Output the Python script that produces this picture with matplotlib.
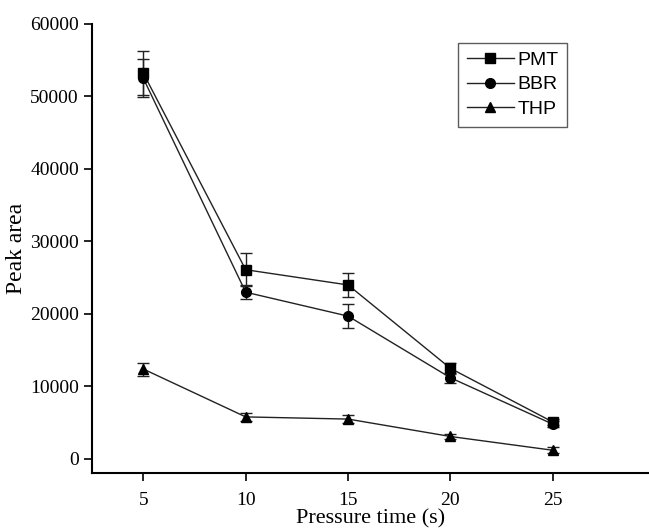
import numpy as np
import matplotlib.pyplot as plt
from matplotlib.lines import Line2D

time_s = [5, 10, 15, 20, 25]
pmt = [53200, 26100, 24000, 12500, 5100]
pmt_err = [3000, 2300, 1700, 800, 400]
bbr = [52500, 23000, 19700, 11200, 4800]
bbr_err = [2600, 1000, 1700, 700, 400]
thp = [12400, 5800, 5500, 3100, 1200]
thp_err = [900, 600, 500, 400, 400]

plt.rcParams['font.family'] = ['Liberation Serif', 'DejaVu Serif']

fig = plt.figure(figsize=(6.49, 5.32), dpi=100)
ax = fig.add_axes([0.142, 0.111, 0.858, 0.844])

series = [('PMT', pmt, pmt_err, 's'), ('BBR', bbr, bbr_err, 'o'), ('THP', thp, thp_err, '^')]
handles = []
for name, vals, err, mk in series:
    ax.errorbar(time_s, vals, yerr=err, color='#222222', lw=1.0, marker=mk,
                markersize=7, markerfacecolor='black', markeredgecolor='black',
                ecolor='#222222', elinewidth=1.0, capsize=4, capthick=1.0)
    handles.append(Line2D([], [], color='#222222', lw=1.0, marker=mk, markersize=7,
                          markerfacecolor='black', markeredgecolor='black', label=name))

ax.set_xlim(2.5, 29.7)
ax.set_ylim(-1930, 60000)
ax.set_xticks(time_s)
ax.set_yticks(np.arange(0, 60001, 10000))
ax.spines['top'].set_visible(False)
ax.spines['right'].set_visible(False)
ax.spines['left'].set_linewidth(1.5)
ax.spines['bottom'].set_linewidth(1.5)
ax.tick_params(direction='out', length=6, width=1.2, labelsize=14)
ax.tick_params(axis='x', pad=8)

ax.set_xlabel('Pressure time (s)', fontsize=16, labelpad=0)
ax.set_ylabel('Peak area', fontsize=17, labelpad=2)

leg = ax.legend(handles=handles, loc='upper left', bbox_to_anchor=(0.64, 0.98), frameon=True,
                fancybox=False, edgecolor='#333333', prop={'family': 'Liberation Sans', 'size': 14},
                handlelength=2.4, handletextpad=0.2, borderpad=0.45, labelspacing=0.35)
leg.get_frame().set_linewidth(1.0)

fig.savefig('out.png', dpi=100)
